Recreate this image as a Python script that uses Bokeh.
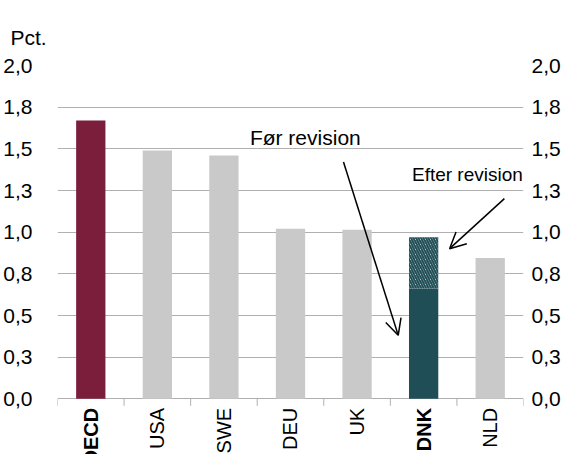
import math
from bokeh.plotting import figure
from bokeh.models import (ColumnDataSource, Range1d, FixedTicker, LinearAxis,
                          LabelSet, Label, Arrow, OpenHead)
from bokeh.core.properties import value
from bokeh.embed import file_html
from bokeh.resources import INLINE

# ---- data ----
categories = ["OECD", "USA", "SWE", "DEU", "UK", "DNK", "NLD"]
values_before = [1.67, 1.49, 1.46, 1.02, 1.015, 0.66, 0.845]
revision_category = "DNK"
value_after_revision = 0.97
highlighted = ["OECD", "DNK"]
y_ticks = [0.0, 0.25, 0.5, 0.75, 1.0, 1.25, 1.5, 1.75, 2.0]
y_tick_labels = ["0,0", "0,3", "0,5", "0,8", "1,0", "1,3", "1,5", "1,8", "2,0"]
unit_label = "Pct."
label_before = "Før revision"
label_after = "Efter revision"

# ---- styles ----
FONT = "Liberation Sans"
FS = "21px"
FS_CAT = "20px"
GRID = "#b0b0b0"
C_OECD = "#7a1e3c"
C_DNK = "#1f4e56"
C_GRAY = "#c9c9c9"
TICK_LEN = 0.042          # length of the category boundary ticks (data units)
Y_LOW = -0.334            # room below the axis for the category labels
bar_colors = [C_OECD if c == "OECD" else (C_DNK if c == "DNK" else C_GRAY) for c in categories]
font_styles = ["bold" if c in highlighted else "normal" for c in categories]

n = len(categories)
centers = [i + 0.5 for i in range(n)]          # category slot centres
bounds = list(range(n + 1))                    # category slot boundaries
src = ColumnDataSource(dict(x=centers, cat=categories, val=values_before, color=bar_colors,
                            style=font_styles, zero=[0] * n))
ri = categories.index(revision_category)
rev_src = ColumnDataSource(dict(x=[centers[ri]], bottom=[values_before[ri]],
                                top=[value_after_revision]))
tick_src = ColumnDataSource(dict(x=bounds, y0=[0] * len(bounds), y1=[-TICK_LEN] * len(bounds)))

p = figure(width=563, height=454, x_range=Range1d(0, n), y_range=Range1d(Y_LOW, 2.0),
           output_backend="svg", toolbar_location=None,
           x_axis_location=None, y_axis_location="left",
           min_border_left=57, min_border_right=38, min_border_top=65, min_border_bottom=0)
p.outline_line_color = None
p.background_fill_color = "white"
p.border_fill_color = "white"
p.xgrid.grid_line_color = None
p.ygrid.ticker = FixedTicker(ticks=y_ticks)
p.ygrid.grid_line_color = GRID
p.ygrid.grid_line_width = 1

# title used as the unit label
p.title.text = unit_label
p.title.align = "left"
p.title.vertical_align = "top"
p.title.offset = -47
p.title.standoff = 29
p.title.text_font = FONT
p.title.text_font_size = FS
p.title.text_font_style = "normal"
p.title.text_color = "black"

p.vbar(x="x", top="val", bottom=0, width=0.44, source=src, fill_color="color",
       line_color=None)
p.vbar(x="x", top="top", bottom="bottom", width=0.44, source=rev_src, fill_color="white",
       line_color=None, hatch_pattern="\\", hatch_color=C_DNK, hatch_scale=5, hatch_weight=2)
p.segment(x0="x", x1="x", y0="y0", y1="y1", source=tick_src, line_color=GRID, line_width=1)

overrides = {t: l for t, l in zip(y_ticks, y_tick_labels)}

def style_y(ax, standoff):
    ax.ticker = FixedTicker(ticks=y_ticks)
    ax.major_label_overrides = overrides
    ax.axis_line_color = None
    ax.major_tick_line_color = None
    ax.minor_tick_line_color = None
    ax.major_label_text_font = FONT
    ax.major_label_text_font_size = FS
    ax.major_label_text_color = "black"
    ax.major_label_standoff = standoff

style_y(p.yaxis[0], 19)
right = LinearAxis()
style_y(right, 2)
p.add_layout(right, "right")

# category labels (rotated, bold for highlighted)
cat_labels = LabelSet(x="x", y="zero", text="cat", source=src, angle=math.pi / 2,
                      y_offset=-9, text_align="right", text_baseline="middle",
                      text_font=value(FONT), text_font_size=FS_CAT, text_font_style="style",
                      text_color="black")
p.add_layout(cat_labels)

# annotations
p.add_layout(Label(x=2.89, y=1.567, text=label_before, text_font=FONT, text_font_size=FS,
                   text_baseline="alphabetic", text_align="left", text_color="black"))
p.add_layout(Label(x=6.99, y=1.347, text=label_after, text_font=FONT, text_font_size="19px",
                   text_baseline="alphabetic", text_align="right", text_color="black"))
p.add_layout(Arrow(x_start=4.296, y_start=1.421, x_end=5.118, y_end=0.381,
                   line_color="black", line_width=1.5,
                   end=OpenHead(size=16, line_color="black", line_width=1.5)))
p.add_layout(Arrow(x_start=6.713, y_start=1.201, x_end=5.890, y_end=0.901,
                   line_color="black", line_width=1.5,
                   end=OpenHead(size=16, line_color="black", line_width=1.5)))

open("out.html", "w").write(file_html(p, INLINE))
